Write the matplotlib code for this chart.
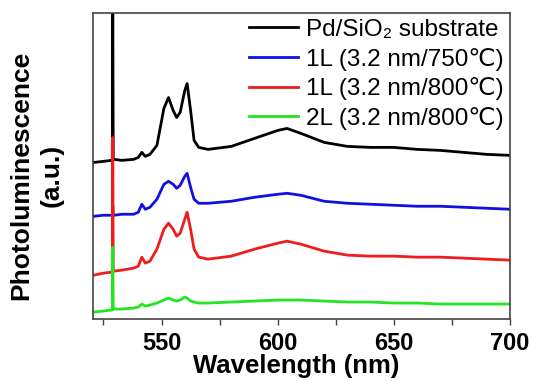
import matplotlib
matplotlib.use('Agg')
import matplotlib.pyplot as plt

plt.rcParams['font.family'] = ['Liberation Sans', 'DejaVu Sans']

# wavelength grid (nm)
wl = [521, 525, 528.5, 528.8, 529, 529.2, 529.5, 533, 538, 540, 541.5, 543, 545, 548,
      551, 553, 555, 556.5, 558, 560, 561, 562.5, 564, 566, 570, 580, 590, 600,
      604, 610, 620, 630, 640, 650, 660, 670, 680, 690, 700]

# PL intensity (a.u., offset stacked)
pd_sio2 = [157, 158, 159, 159, 330, 160, 160, 159, 160, 162, 167, 163, 165, 174,
           211, 222, 209, 202, 207, 229, 236, 209, 179, 172, 170, 173, 181, 189,
           191, 186, 177, 173, 172, 172, 170, 169, 167, 165, 164]
l1_750 = [103, 104, 104, 104, 114, 104, 104, 105, 105, 107, 115, 110, 112, 120,
          135, 138, 135, 131, 134, 143, 146, 132, 120, 116, 116, 118, 122, 125,
          126, 124, 118, 116, 115, 114, 113, 113, 112, 111, 110]
l1_800 = [44, 46, 47, 47, 182, 48, 48, 49, 51, 53, 62, 56, 58, 70,
          90, 96, 90, 83, 86, 100, 107, 90, 70, 62, 60, 63, 70, 76,
          78, 75, 68, 64, 63, 63, 62, 62, 61, 60, 59]
l2_800 = [7, 8, 9, 9, 72, 10, 10, 10, 11, 12, 15, 13, 14, 16,
          19, 21, 19, 18, 19, 22, 21, 18, 17, 16, 16, 17, 18, 19,
          19, 19, 18, 17, 17, 16, 16, 15, 15, 15, 15]

labels = ['Pd/SiO\u2082 substrate', '1L (3.2 nm/750\u2103)',
          '1L (3.2 nm/800\u2103)', '2L (3.2 nm/800\u2103)']
colors = ['#000000', '#1010e0', '#ee1c1c', '#22e622']

fig = plt.figure(figsize=(5.33, 3.81), dpi=100)
ax = fig.add_axes([0.1745, 0.1627, 0.7825, 0.804])

for y, c, lab in zip([pd_sio2, l1_750, l1_800, l2_800], colors, labels):
    ax.plot(wl, y, color=c, lw=2.0, label=lab)

ax.set_xlim(520.5, 700)
ax.set_ylim(0, 307)
ax.set_yticks([])
ax.set_xticks([550, 600, 650, 700])
ax.set_xticks([525, 575, 625, 675], minor=True)
ax.tick_params(axis='x', which='both', direction='out', length=4, width=1,
               color='#444444', labelsize=17, pad=5)
for t in ax.get_xticklabels():
    t.set_fontweight('bold')
for s in ax.spines.values():
    s.set_color('#444444')
    s.set_linewidth(1.2)

ax.set_xlabel('Wavelength (nm)', fontsize=18.5, fontweight='bold')
ax.xaxis.set_label_coords(0.487, -0.115)
ax.set_ylabel('Photoluminescence\n(a.u.)', fontsize=19, fontweight='bold',
              linespacing=1.35)
ax.yaxis.set_label_coords(-0.07, 0.469)

leg = ax.legend(loc='upper right', fontsize=17.5, frameon=False,
                handlelength=2.0, handletextpad=0.35, labelspacing=0.28,
                borderaxespad=0.0, borderpad=0.25)

fig.savefig('out.png', dpi=100)
